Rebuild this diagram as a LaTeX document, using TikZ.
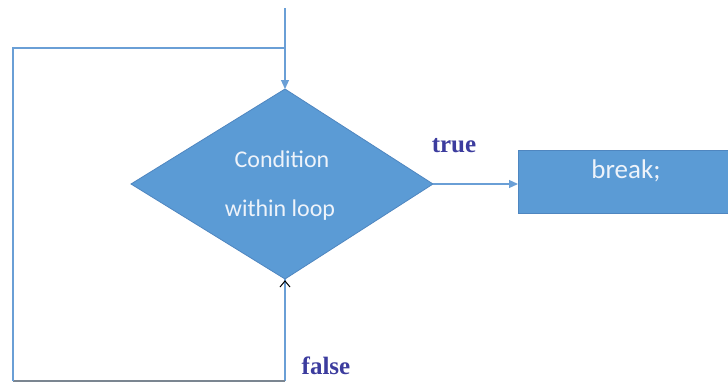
\documentclass[tikz,border=0pt]{standalone}
\usepackage{fontspec}
\setmainfont{Carlito}
\newfontfamily\labfont{Liberation Serif}
\usetikzlibrary{arrows.meta,shapes.geometric}
\definecolor{fillblue}{HTML}{5B9BD5}
\definecolor{edgeblue}{HTML}{4F86C0}
\definecolor{lineblue}{HTML}{6A9FD6}
\definecolor{labblue}{HTML}{3C3C9E}
\definecolor{txtwhite}{HTML}{EEF3FA}
\tikzset{
  decision/.style={draw=edgeblue,fill=fillblue,line width=0.8pt},
  procbox/.style={draw=edgeblue,fill=fillblue,line width=0.8pt},
  conn/.style={draw=lineblue,line width=1.2pt},
  arr/.style={conn,-{Triangle[length=9pt,width=8pt,color=lineblue]}},
  labtxt/.style={font=\labfont\bfseries\fontsize{25}{28}\selectfont,text=labblue},
  boxtxt/.style={font=\fontsize{24}{28}\selectfont,text=txtwhite}
}
\begin{document}
\begin{tikzpicture}[x=1pt,y=-1pt]
\useasboundingbox (0,0) rectangle (728,383);
% diamond
\coordinate (dT) at (285,89);
\coordinate (dR) at (433,184);
\coordinate (dB) at (285,279);
\coordinate (dL) at (131,184);
\path[decision] (dT) -- (dR) -- (dB) -- (dL) -- cycle;
\node[boxtxt] (c1) at (282,159) {Condition};
\node[boxtxt] (c2) at (280,210) {within loop};
% break box
\node[procbox,minimum width=240pt,minimum height=63pt,anchor=west,inner sep=0pt] (brk) at (518,182) {};
\node[boxtxt,anchor=center,font=\fontsize{27}{30}\selectfont] (brktxt) at (626,171) {break;};
% entry arrow
\coordinate (top) at (285,8);
\draw[arr] (top) -- (dT);
% true arrow
\draw[arr] (dR) -- (dR -| brk.west);
\node[labtxt] (tl) at (454,146) {true};
% loop back
\coordinate (b1) at (285,381);
\coordinate (b2) at (13,381);
\coordinate (b3) at (13,48);
\coordinate (b4) at (285,48);
\draw[conn] (b1) -- (dB);
\draw[draw=gray!80!lineblue,line width=1.2pt] (b1) -- (b2);
\draw[conn] (b2) -- (b3) -- (b4);
\draw[black,line width=1pt] (280,287) -- (285,281) -- (290,287);
\node[labtxt] (fl) at (326,366) {false};
\end{tikzpicture}
\end{document}
